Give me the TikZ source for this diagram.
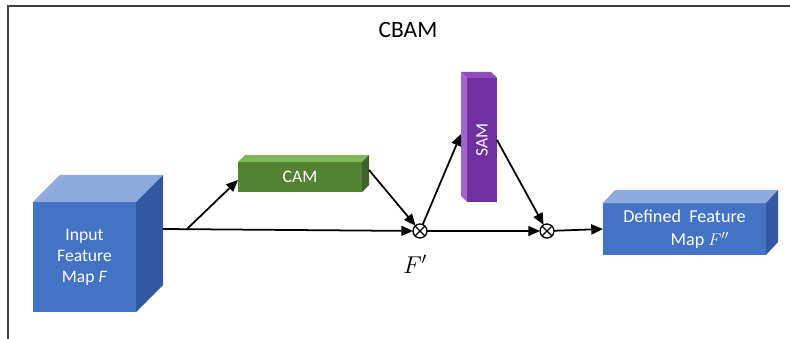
\documentclass[tikz,border=0pt]{standalone}
\usepackage{fontspec}
\usepackage{graphicx}
\setmainfont{Carlito}
\usetikzlibrary{calc,arrows.meta}
\definecolor{blueF}{HTML}{4472C4}
\definecolor{blueT}{HTML}{8FAADC}
\definecolor{blueS}{HTML}{3258A2}
\definecolor{greenF}{HTML}{548235}
\definecolor{greenT}{HTML}{7DB957}
\definecolor{greenS}{HTML}{3F6228}
\definecolor{purpF}{HTML}{7030A0}
\definecolor{purpT}{HTML}{8E4CBE}
\definecolor{purpS}{HTML}{A066CC}
\definecolor{frame}{HTML}{404040}
\begin{document}
\begin{tikzpicture}[x=0.03cm,y=-0.03cm,
  face/.style={inner sep=0pt, outer sep=0pt, text=white, align=center, font=\fontsize{15}{18}\selectfont},
  arr/.style={-{Triangle[length=10pt,width=8.5pt]}, line width=1.5pt},
  mult/.style={circle, draw, line width=1.1pt, minimum size=0.42cm, inner sep=0pt, outer sep=0pt}]
\useasboundingbox (0,0) rectangle (790,338);
\draw[line width=1.3pt, frame] (8,340) -- (8,6) -- (792,6);
\node[font=\fontsize{20}{24}\selectfont] (title) at (408,30) {CBAM};
% input cube
\node[face, fill=blueF, minimum width=3.09cm, minimum height=3.3cm] (in) at (84.5,257) {Input\\Feature\\Map \textit{F}};
\fill[blueT] (in.north west) -- ++(27,-27) -- ($(in.north east)+(27,-27)$) -- (in.north east) -- cycle;
\fill[blueS] (in.north east) -- ++(27,-27) -- ($(in.south east)+(27,-27)$) -- (in.south east) -- cycle;
% CAM
\node[face, fill=greenF, minimum width=3.72cm, minimum height=0.9cm] (cam) at (300,177) {CAM};
\fill[greenT] (cam.north west) -- ++(7,-7) -- ($(cam.north east)+(7,-7)$) -- (cam.north east) -- cycle;
\fill[greenS] (cam.north east) -- ++(7,-7) -- ($(cam.south east)+(7,-7)$) -- (cam.south east) -- cycle;
% SAM
\node[face, fill=purpF, minimum width=0.9cm, minimum height=3.72cm] (sam) at (482,140) {\rotatebox{90}{SAM}};
\fill[purpT] (sam.north west) -- ++(-6,-6) -- ($(sam.north east)+(-6,-6)$) -- (sam.north east) -- cycle;
\fill[purpS] (sam.north west) -- ++(-6,-6) -- ($(sam.south west)+(-6,-6)$) -- (sam.south west) -- cycle;
% output
\node[face, fill=blueF, minimum width=4.89cm, minimum height=1.56cm, align=left, font=\fontsize{15.5}{20}\selectfont] (out) at (684.5,229) {Defined\ \ Feature\\\hspace*{2.6em}Map $F''$};
\fill[blueT] (out.north west) -- ++(12,-13) -- ($(out.north east)+(12,-13)$) -- (out.north east) -- cycle;
\fill[blueS] (out.north east) -- ++(12,-13) -- ($(out.south east)+(12,-13)$) -- (out.south east) -- cycle;
% multipliers
\node[mult] (o1) at (420,231) {};
\draw[line width=1.1pt] (o1.45) -- (o1.225) (o1.135) -- (o1.-45);
\node[mult] (o2) at (547,231) {};
\draw[line width=1.1pt] (o2.45) -- (o2.225) (o2.135) -- (o2.-45);
\node[font=\fontsize{20}{24}\selectfont] (fp) at (415,264) {$F'$};
% connectors
\coordinate (br) at ($(in.east)+(51,-28)$);
\draw[arr] ($(in.east)+(27,-28)$) -- (o1);
\draw[arr] (br) -- ($(cam.south west)!0.4!(cam.north west)$);
\draw[arr] ($(cam.east)+(7,-7)$) -- (o1);
\draw[arr] (o1) -- ($(sam.west)+(-6,-6)$);
\draw[arr] (sam.east) -- (o2);
\draw[arr] (o1) -- (o2);
\draw[arr] (o2) -- (out.west);
\end{tikzpicture}
\end{document}
